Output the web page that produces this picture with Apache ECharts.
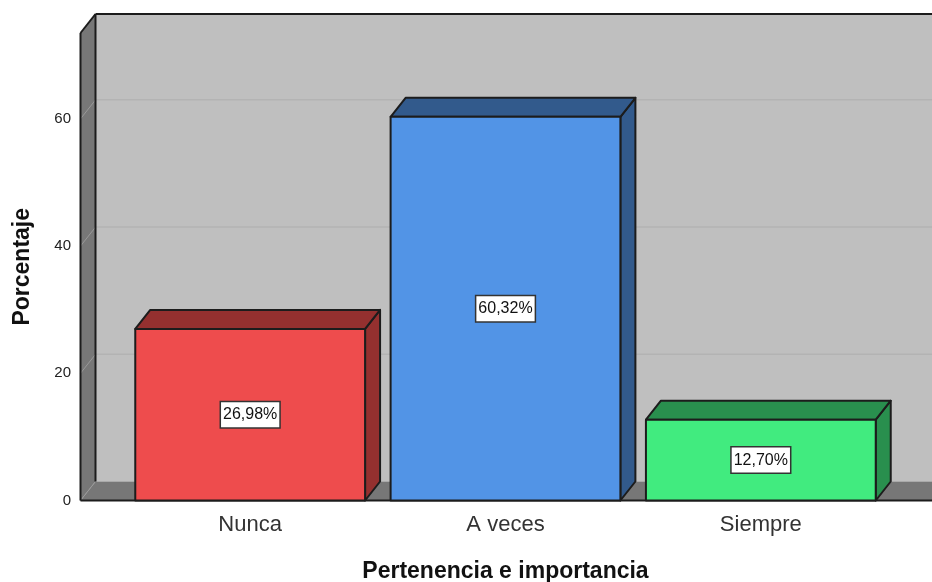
<!DOCTYPE html>
<html>
<head>
<meta charset="utf-8">
<style>
    html, body { margin: 0; padding: 0; background: #fff; }
    #chart { width: 932px; height: 582px; }
</style>
<script src="https://cdn.jsdelivr.net/npm/echarts@6/dist/echarts.min.js"></script>
</head>
<body>
<div id="chart"></div>
<script>
    var categories = ['Nunca', 'A veces', 'Siempre'];
    var percentages = [26.98, 60.32, 12.70];
    var percentLabels = ['26,98%', '60,32%', '12,70%'];
    var frontColors = ['#EE4C4D', '#5294E6', '#41EB7F'];
    var shadeColors = ['#94302F', '#325A8C', '#298F4E'];
    var wallLines = [20, 40, 60];

    var AXIS_TOP = 73.5;
    var DEPTH_X = 15;
    var DEPTH_Y = -19;
    var EDGE = '#1c1c1c';
    var FONT = '"Liberation Sans", Arial, sans-serif';

    var chart = echarts.init(document.getElementById('chart'));

    function poly(points, fill, stroke, width) {
        return {
            type: 'polygon',
            shape: { points: points },
            style: { fill: fill, stroke: stroke || null, lineWidth: width || 0, lineJoin: 'round' }
        };
    }

    function line(x1, y1, x2, y2, stroke, width) {
        return {
            type: 'line',
            shape: { x1: x1, y1: y1, x2: x2, y2: y2 },
            style: { stroke: stroke, lineWidth: width }
        };
    }

    // side wall, back wall and floor of the box
    function renderWall(params, api) {
        var left = 80.5;
        var right = 932;
        var bottom = api.coord([0, 0])[1];
        var top = api.coord([0, AXIS_TOP])[1];
        var backLeft = left + DEPTH_X;
        var backBottom = bottom + DEPTH_Y;
        var backTop = top + DEPTH_Y;
        var children = [
            poly([[backLeft, backTop], [right, backTop], [right, backBottom], [backLeft, backBottom]], '#BFBFBF'),
            poly([[left, top], [backLeft, backTop], [backLeft, backBottom], [left, bottom]], '#777777'),
            poly([[left, bottom], [backLeft, backBottom], [right, backBottom], [right, bottom]], '#777777')
        ];
        wallLines.forEach(function (v) {
            var y = api.coord([0, v])[1];
            children.push(line(left, y, backLeft, y + DEPTH_Y, '#999999', 1));
            children.push(line(backLeft, y + DEPTH_Y, right, y + DEPTH_Y, '#B3B3B3', 1.5));
        });
        children.push(line(left, bottom, backLeft, backBottom, '#999999', 1));
        children.push(line(backLeft, backTop, right, backTop, EDGE, 2));
        children.push(line(backLeft, backTop, backLeft, backBottom, EDGE, 2));
        children.push(line(left, top, backLeft, backTop, EDGE, 2));
        children.push(line(left, top, left, bottom, EDGE, 2));
        children.push(line(left, bottom, right, bottom, EDGE, 2));
        return { type: 'group', children: children };
    }

    function renderBar(params, api) {
        var i = api.value(0);
        var base = api.coord([i, 0]);
        var head = api.coord([i, api.value(1)]);
        var half = api.size([1, 0])[0] * 0.9 / 2;
        var x0 = base[0] - half;
        var x1 = base[0] + half;
        var y0 = base[1];
        var y1 = head[1];
        var midY = (y0 + y1) / 2;
        return {
            type: 'group',
            children: [
                poly([[x1, y1], [x1 + DEPTH_X, y1 + DEPTH_Y], [x1 + DEPTH_X, y0 + DEPTH_Y], [x1, y0]], shadeColors[i], EDGE, 2),
                poly([[x0, y1], [x0 + DEPTH_X, y1 + DEPTH_Y], [x1 + DEPTH_X, y1 + DEPTH_Y], [x1, y1]], shadeColors[i], EDGE, 2),
                poly([[x0, y1], [x1, y1], [x1, y0], [x0, y0]], frontColors[i], EDGE, 2),
                {
                    type: 'text',
                    x: base[0],
                    y: midY,
                    style: {
                        text: percentLabels[i],
                        fill: '#111',
                        font: '16px ' + FONT,
                        align: 'center',
                        verticalAlign: 'middle',
                        backgroundColor: '#fff',
                        borderColor: '#333',
                        borderWidth: 1.5,
                        padding: [5, 2, 4, 2]
                    }
                }
            ]
        };
    }

    chart.setOption({
        animation: false,
        grid: { left: 122.5, right: 43.5, top: 33, bottom: 81.5, outerBoundsMode: 'none' },
        xAxis: {
            type: 'category',
            data: categories,
            name: 'Pertenencia e importancia',
            nameLocation: 'middle',
            nameGap: 60,
            nameTextStyle: { fontFamily: FONT, fontSize: 23, fontWeight: 'bold', color: '#111' },
            axisLine: { show: false },
            axisTick: { show: false },
            axisLabel: { fontFamily: FONT, fontSize: 22, color: '#333', margin: 13 }
        },
        yAxis: {
            type: 'value',
            min: 0,
            max: AXIS_TOP,
            interval: 20,
            offset: 42.5,
            name: 'Porcentaje',
            nameLocation: 'middle',
            nameGap: 46,
            nameTextStyle: { fontFamily: FONT, fontSize: 23, fontWeight: 'bold', color: '#111' },
            axisLine: { show: false },
            axisTick: { show: false },
            splitLine: { show: false },
            axisLabel: { fontFamily: FONT, fontSize: 15, color: '#222', margin: 9, showMaxLabel: false, padding: [9, 0, 0, 0] }
        },
        series: [
            {
                type: 'custom',
                coordinateSystem: 'cartesian2d',
                renderItem: renderWall,
                data: [[0, 0]],
                silent: true,
                z: 1
            },
            {
                type: 'custom',
                coordinateSystem: 'cartesian2d',
                renderItem: renderBar,
                encode: { x: 0, y: 1 },
                data: percentages.map(function (v, i) { return [i, v]; }),
                z: 2
            }
        ]
    });
</script>
</body>
</html>
